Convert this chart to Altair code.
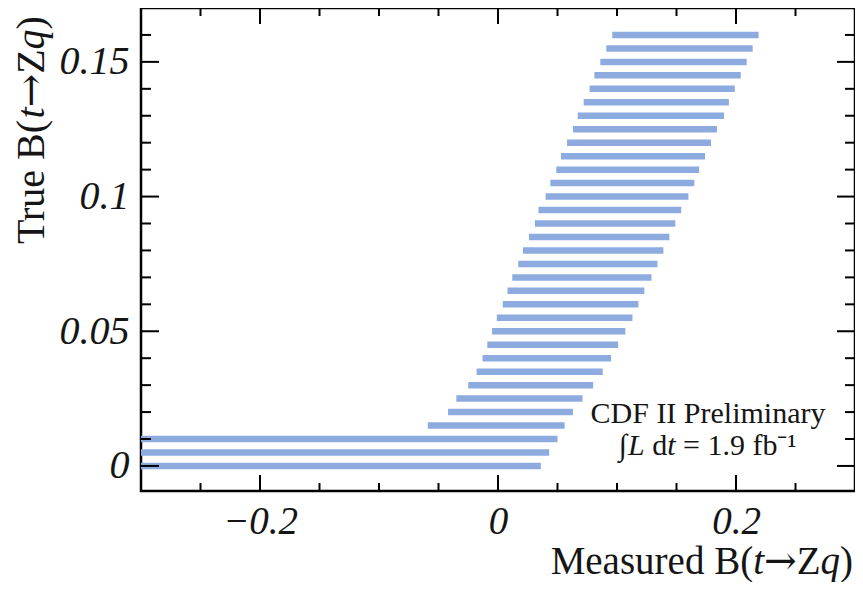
import altair as alt
import pandas as pd

# Confidence belt: true value and measured interval
true_b = [0.0, 0.005, 0.01, 0.015, 0.02, 0.025, 0.03, 0.035, 0.04, 0.045,
          0.05, 0.055, 0.06, 0.065, 0.07, 0.075, 0.08, 0.085, 0.09, 0.095,
          0.1, 0.105, 0.11, 0.115, 0.12, 0.125, 0.13, 0.135, 0.14, 0.145,
          0.15, 0.155, 0.16]
meas_lo = [-0.3, -0.3, -0.3, -0.059, -0.042, -0.035, -0.025, -0.018, -0.013, -0.009,
           -0.005, -0.001, 0.004, 0.008, 0.012, 0.017, 0.021, 0.026, 0.031, 0.034,
           0.040, 0.044, 0.049, 0.053, 0.058, 0.063, 0.067, 0.072, 0.077, 0.081,
           0.086, 0.091, 0.096]
meas_hi = [0.036, 0.043, 0.050, 0.056, 0.063, 0.071, 0.080, 0.088, 0.095, 0.101,
           0.107, 0.113, 0.118, 0.123, 0.129, 0.134, 0.139, 0.144, 0.149, 0.154,
           0.160, 0.165, 0.169, 0.174, 0.179, 0.184, 0.190, 0.194, 0.199, 0.204,
           0.209, 0.214, 0.219]

x_major = [-0.2, 0.0, 0.2]
x_minor = [-0.25, -0.15, -0.1, -0.05, 0.05, 0.1, 0.15, 0.25]
y_major = [0.0, 0.05, 0.1, 0.15]
y_minor = [0.01, 0.02, 0.03, 0.04, 0.06, 0.07, 0.08, 0.09, 0.11, 0.12, 0.13, 0.14, 0.16]

# Axis titles, split where the style changes (roman / italic / arrow)
x_title_parts = ["Measured B(", "t", "\u2192", "Z", "q", ")"]
y_title_parts = ["True B(", "t", "\u2192", "Z", "q", ")"]
part_styles = ["normal", "italic", "arrow", "normal", "italic", "normal"]
note_line1 = "CDF II Preliminary"
note_line2_parts = ["\u222b", "L", "d", "t", "= 1.9 fb\u207b\u00b9"]
note_line2_styles = ["normal", "italic", "normal", "italic", "normal"]

W, H = 714, 483
SERIF = "Liberation Serif"
ARROWFONT = "DejaVu Serif"
BAR = "#8eabe0"
INK = "#151515"

belt = pd.DataFrame({"true": true_b, "lo": meas_lo, "hi": meas_hi})
xs = alt.Scale(domain=[-0.3, 0.3], nice=False, zero=False)
ys = alt.Scale(domain=[-0.0093, 0.17], nice=False, zero=False)

AX_X = alt.Axis(
    values=x_major, format="~g", ticks=False, tickSize=0, domain=False, grid=False,
    labelFont=SERIF, labelFontStyle="italic", labelFontSize=39, labelColor=INK,
    labelPadding=11, labelFlush=False)
AX_Y = alt.Axis(
    values=y_major, format="~g", ticks=False, tickSize=0, domain=False, grid=False,
    labelFont=SERIF, labelFontStyle="italic", labelFontSize=40, labelColor=INK,
    labelPadding=12, labelFlush=False)

bars = alt.Chart(belt).mark_rule(color=BAR, strokeWidth=6.5, strokeCap="butt", clip=True).encode(
    x=alt.X("lo:Q", scale=xs, axis=AX_X, title=None),
    x2="hi:Q",
    y=alt.Y("true:Q", scale=ys, axis=AX_Y, title=None),
)

def ytick(vals, x0, x1):
    return alt.Chart(pd.DataFrame({"v": vals})).mark_rule(color="black", strokeWidth=2).encode(
        y=alt.Y("v:Q", scale=ys, axis=AX_Y, title=None),
        x=alt.value(x0), x2=alt.value(x1))

def xtick(vals, y0, y1):
    return alt.Chart(pd.DataFrame({"v": vals})).mark_rule(color="black", strokeWidth=2).encode(
        x=alt.X("v:Q", scale=xs, axis=AX_X, title=None),
        y=alt.value(y0), y2=alt.value(y1))

ticks = [
    ytick(y_major, 0, 18), ytick(y_minor, 0, 10),
    ytick(y_major, W, W - 18), ytick(y_minor, W, W - 10),
    xtick(x_major, H, H - 16), xtick(x_minor, H, H - 8),
    xtick(x_major, 0, 16), xtick(x_minor, 0, 8),
]

def seg(text, style, size, px, py, align="left", angle=0):
    font = ARROWFONT if style == "arrow" else SERIF
    fstyle = "italic" if style == "italic" else "normal"
    return alt.Chart(pd.DataFrame({"t": [text]})).mark_text(
        font=font, fontStyle=fstyle, fontSize=size, color=INK, align=align,
        baseline="alphabetic", angle=angle).encode(
        x=alt.value(px), y=alt.value(py), text="t:N")

# advance widths (em) of each title part, Times-compatible metrics
part_em = [5.193, 0.278, 0.838, 0.611, 0.5, 0.333]

title_layers = []
# x title: right end near plot right edge, baseline below the tick labels
XS = 39
x_pos = W - 2 - sum(part_em) * XS
for text, style, em in zip(x_title_parts, part_styles, part_em):
    title_layers.append(seg(text, style, XS, x_pos, H + 83))
    x_pos += em * XS
# y title: rotated, reading upward from lower start
YS = 40
y_em = [3.138] + part_em[1:]
y_pos = 236
for text, style, em in zip(y_title_parts, part_styles, y_em):
    title_layers.append(seg(text, style, YS, -97, y_pos, angle=270))
    y_pos -= em * YS

# annotation
NS = 30
note_layers = [seg(note_line1, "normal", NS, 567, 415, align="center")]
P = 487
note_layers.append(seg(note_line2_parts[0], "normal", NS, P - 1, 447, align="right"))
# offsets: L (italic) | space | d | t (italic) | space
n_offsets = [0.0, 0.806, 1.306, 1.834]
for text, style, off in zip(note_line2_parts[1:], note_line2_styles[1:], n_offsets):
    note_layers.append(seg(text, style, NS, P + off * NS, 447))

chart = alt.layer(bars, *ticks, *title_layers, *note_layers).properties(
    width=W, height=H,
    padding={"left": 133, "top": 0, "right": 0, "bottom": 91},
    autosize=alt.AutoSizeParams(type="none"),
    background="white",
).configure_view(stroke="black", strokeWidth=2.5)

chart.save("out.html", embed_options={"renderer": "svg", "actions": False})
